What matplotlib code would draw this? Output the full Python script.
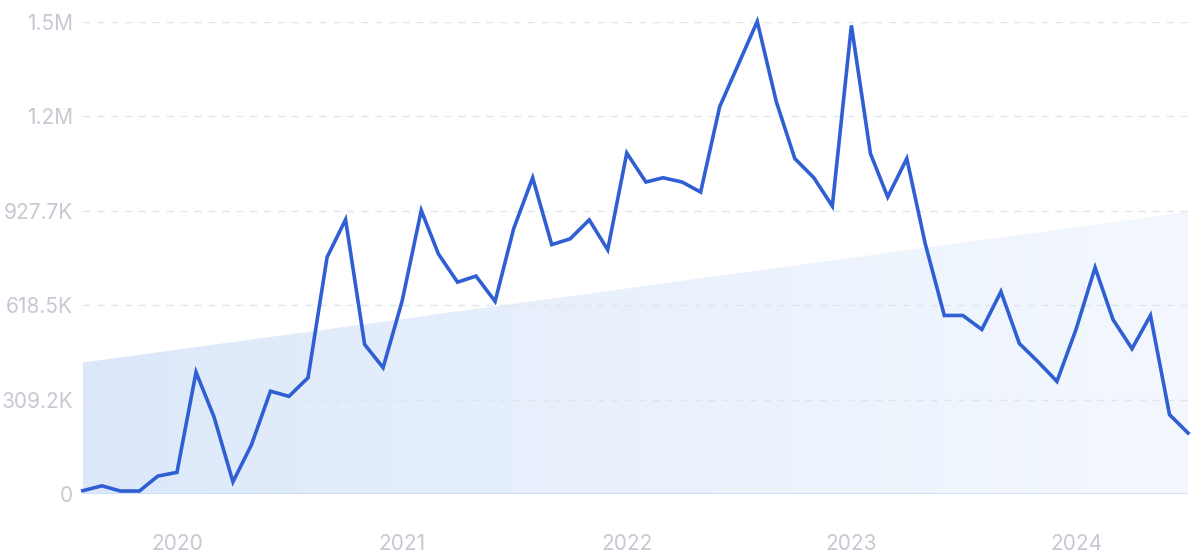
import matplotlib
matplotlib.use("Agg")
import matplotlib.pyplot as plt
import numpy as np
import pandas as pd
from matplotlib.colors import LinearSegmentedColormap

# ---- data ----
start_month = "2019-08-01"
values = [11000, 27000, 10000, 10000, 59000, 71000, 399000, 254000, 40000, 161000,
          337000, 320000, 381000, 776000, 899000, 490000, 414000, 633000, 929000, 786000,
          694000, 714000, 631000, 868000, 1036000, 817000, 836000, 898000, 800000, 1117000,
          1022000, 1036000, 1022000, 989000, 1269000, 1406000, 1548000, 1285000, 1099000, 1036000,
          943000, 1535000, 1115000, 973000, 1099000, 820000, 585000, 585000, 539000, 663000,
          493000, 432000, 369000, 539000, 742000, 572000, 476000, 585000, 260000, 200000]
trend_start = 431000
trend_end = 924000
ytick_values = [0, 309200, 618500, 927700, 1237000, 1546200]
ytick_labels = ["0", "309.2K", "618.5K", "927.7K", "1.2M", "1.5M"]
xtick_years = [2020, 2021, 2022, 2023, 2024]

dates = pd.date_range(start_month, periods=len(values), freq="MS")
x = matplotlib.dates.date2num(dates)

plt.rcParams['font.family'] = ['Inter', 'DejaVu Sans']

fig = plt.figure(figsize=(12, 5.57), dpi=100)
ax = fig.add_axes([0.069, 0.113, 0.921, 0.8475])

ax.set_xlim(x[0], x[-1])
ax.set_ylim(0, 1546200)

# gradient trend area
trend = np.linspace(trend_start, trend_end, len(x))
poly = ax.fill_between(x, 0, trend, facecolor='none', edgecolor='none')
cmap = LinearSegmentedColormap.from_list('g', ['#dce8fa', '#e9f1fc', '#f4f8fe'])
grad = np.linspace(0, 1, 256).reshape(1, -1)
im = ax.imshow(grad, cmap=cmap, aspect='auto', extent=[x[0], x[-1], 0, 1546200],
               origin='lower', zorder=0.5)
im.set_clip_path(poly.get_paths()[0], transform=ax.transData)

# grid
for v in ytick_values[1:]:
    ax.axhline(v, color='#dfe5ee', lw=1, ls=(0, (5, 5)), zorder=0.8)
ax.axhline(0, color='#cadcf4', lw=1.2, zorder=1)

ax.plot(x, values, color='#2f5fd3', lw=2.6, solid_joinstyle='miter', zorder=3, clip_on=False)

for s in ax.spines.values():
    s.set_visible(False)

ax.set_yticks(ytick_values)
ax.set_yticklabels(ytick_labels)
xt = matplotlib.dates.date2num(pd.to_datetime([f"{y}-01-01" for y in xtick_years]))
ax.set_xticks(xt)
ax.set_xticklabels([str(y) for y in xtick_years])
ax.tick_params(axis='both', length=0, labelsize=15, labelcolor='#c5c9d2')
ax.tick_params(axis='y', pad=7)
ax.tick_params(axis='x', pad=29)

fig.savefig("out.png", dpi=100)
